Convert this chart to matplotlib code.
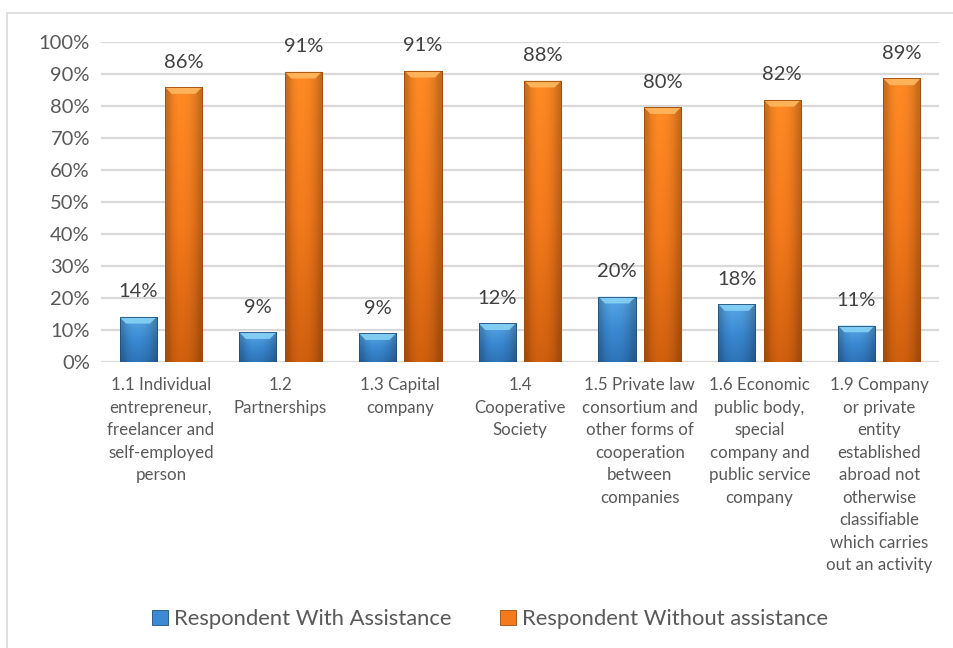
import matplotlib
matplotlib.use("Agg")
import matplotlib.pyplot as plt
import numpy as np
from matplotlib import colors as mcolors
from matplotlib.patches import Polygon, Patch, Rectangle

plt.rcParams['font.family'] = ['Lato', 'DejaVu Sans']

categories = [
    "1.1 Individual\nentrepreneur,\nfreelancer and\nself-employed\nperson",
    "1.2\nPartnerships",
    "1.3 Capital\ncompany",
    "1.4\nCooperative\nSociety",
    "1.5 Private law\nconsortium and\nother forms of\ncooperation\nbetween\ncompanies",
    "1.6 Economic\npublic body,\nspecial\ncompany and\npublic service\ncompany",
    "1.9 Company\nor private\nentity\nestablished\nabroad not\notherwise\nclassifiable\nwhich carries\nout an activity",
]
with_assistance = [14.1, 9.3, 9.0, 12.1, 20.4, 18.1, 11.4]
without_assistance = [85.9, 90.7, 91.0, 87.9, 79.6, 81.9, 88.6]
series_names = ["Respondent With Assistance", "Respondent Without assistance"]
yticks = [0, 10, 20, 30, 40, 50, 60, 70, 80, 90, 100]

# (top, main, bottom, bevel, edge)
blue = ("#5AA8E6", "#3B8AD3", "#2E74B8", "#86D2F6", "#1F4E79")
orange = ("#FF8A24", "#F47A1C", "#D0600E", "#FFB860", "#9C4A0A")

text_col = "#595959"
grid_col = "#D9D9D9"

fig = plt.figure(figsize=(9.54, 6.48), dpi=100)
ax = fig.add_axes([101 / 954, 1 - 362 / 648, 838 / 954, 320 / 648])

# light chart-area frame
fig.patches.append(Rectangle((7.5 / 954, -0.1), 1.2, 1.1 - 13 / 648,
                             transform=fig.transFigure, fill=False,
                             edgecolor="#D9D9D9", linewidth=1.2, zorder=0))

x = np.arange(len(categories))
width = 0.31
offset = 0.19


def shaded_bars(xpos, values, pal):
    top, main, bottom, bevel, edge = pal
    bars = ax.bar(xpos, values, width, color=main, edgecolor=edge,
                  linewidth=0.6, zorder=2)
    cmap = mcolors.LinearSegmentedColormap.from_list("g", [bottom, main, top])
    img = cmap(np.linspace(0, 1, 64))[:, None, :]
    # darker sides, lighter middle
    side = np.array([0.8, 0.94, 1.0, 1.0, 0.97, 0.9, 0.78])[None, :, None]
    img = np.repeat(img, side.shape[1], axis=1)
    img[..., :3] = img[..., :3] * side
    dx = 0.055
    dy = 2.1
    for b, v in zip(bars, values):
        x0 = b.get_x()
        w = b.get_width()
        im = ax.imshow(img, extent=[x0, x0 + w, 0, v],
                       origin="lower", aspect="auto", zorder=2.1,
                       interpolation="bilinear")
        im.set_clip_path(b)
        bev = Polygon([(x0, v), (x0 + w, v),
                       (x0 + w - dx, v - dy), (x0 + dx, v - dy)],
                      closed=True, facecolor=bevel, edgecolor="none",
                      alpha=0.9, zorder=2.2)
        ax.add_patch(bev)
        rim = Rectangle((x0, 0), w, v, fill=False, edgecolor=edge,
                        linewidth=0.6, zorder=2.3)
        ax.add_patch(rim)
        ax.annotate(f"{v:.0f}%", (x0 + w / 2, v), xytext=(0, 25),
                    textcoords="offset pixels", ha="center", va="center",
                    fontsize=14.5, color="#404040", zorder=3)
    return bars


shaded_bars(x - offset, with_assistance, blue)
shaded_bars(x + offset, without_assistance, orange)

ax.set_xlim(-0.5, len(categories) - 0.5)
ax.set_ylim(0, 100)
ax.set_yticks(yticks)
ax.set_yticklabels([f"{t}%" for t in yticks], fontsize=14.5, color=text_col)
ax.set_xticks(x)
ax.set_xticklabels(categories, fontsize=12.2, color=text_col,
                   linespacing=1.5, va="top")
ax.tick_params(length=0)
ax.tick_params(axis="x", pad=11)
ax.tick_params(axis="y", pad=8)
ax.yaxis.grid(True, color=grid_col, linewidth=1.6)
ax.set_axisbelow(True)
for s in ax.spines.values():
    s.set_visible(False)

handles = [Patch(facecolor=blue[1], edgecolor=blue[4], linewidth=0.6),
           Patch(facecolor=orange[1], edgecolor=orange[4], linewidth=0.6)]
fig.legend(handles, series_names, loc="center", bbox_to_anchor=(0.514, 1 - 619 / 648),
           ncol=2, frameon=False, fontsize=15.8, labelcolor=text_col,
           handlelength=0.7, handleheight=0.7, handletextpad=0.3,
           columnspacing=2.2)

fig.savefig("out.png", dpi=100)
